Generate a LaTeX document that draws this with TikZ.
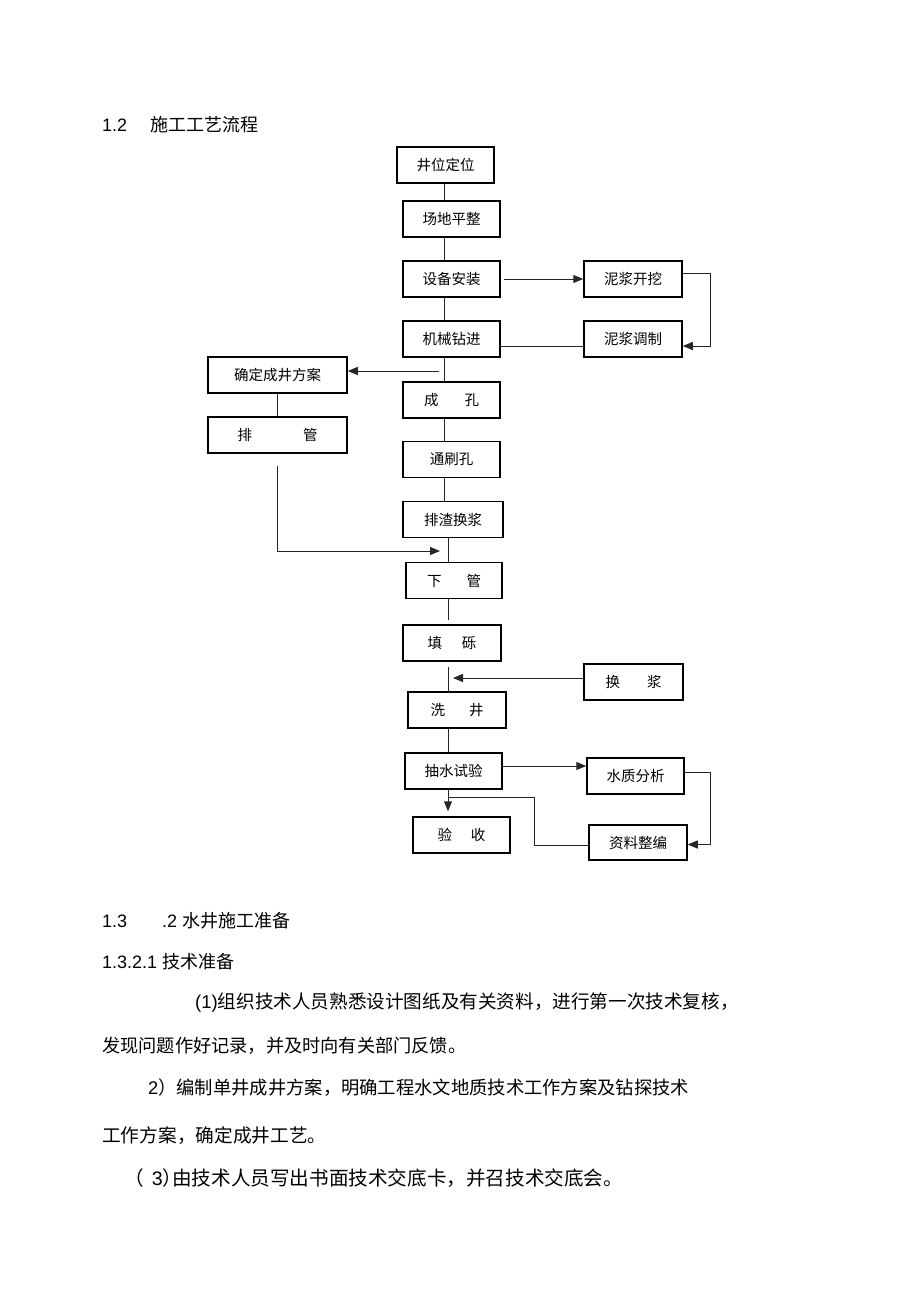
\documentclass[tikz,border=0pt]{standalone}
\usepackage{fontspec}
\setmainfont{Liberation Sans}
\newfontfamily\cjk{Noto Sans CJK SC}
\usetikzlibrary{positioning,arrows.meta}

\begin{document}
\begin{tikzpicture}[x=1pt, y=-1pt,
  box/.style={draw, rectangle, line width=1.5pt, minimum width=97pt, minimum height=36pt,
    inner sep=0pt, font=\cjk\fontsize{14.5}{14.5}\selectfont},
  widebox/.style={box, minimum width=139pt},
  link/.style={line width=1pt, draw=black!85},
  arr/.style={link, -{Triangle[length=10pt, width=8pt]}},
  body/.style={anchor=west, inner sep=0pt, font=\fontsize{18}{18}\selectfont}]
  \useasboundingbox (0,0) rectangle (920,1304);
  \fill[white] (0,0) rectangle (920,1304);

  \node[body] (h12) at (102, 125) {1.2\hspace{23pt}{\cjk 施工工艺流程}};

  \node[box] (wdw) at (445.5, 165) {井位定位};
  \node[box] (cdpz) at (451.5, 219) {场地平整};
  \node[box] (sbaz) at (451.5, 279) {设备安装};
  \node[box] (jxzj) at (451.5, 339) {机械钻进};
  \node[box, minimum width=98pt] (njwk) at (633, 279) {泥浆开挖};
  \node[box, minimum width=98pt] (njtz) at (633, 339) {泥浆调制};
  \node[widebox] (qdfa) at (277.5, 375) {确定成井方案};
  \node[widebox] (pg) at (277.5, 435) {排\hspace{51pt}管};
  \node[box] (ck) at (451.5, 400) {成\hspace{26pt}孔};
  \node[box] (tsk) at (451.5, 459.5) {通刷孔};
  \node[box, minimum width=100pt] (pzhj) at (453, 519.5) {排渣换浆};
  \node[box, minimum width=96pt] (xg) at (454, 580.5) {下\hspace{25pt}管};
  \node[box, minimum width=98pt] (tl) at (452, 643) {填\hspace{20pt}砾};
  \node[box, minimum width=99pt] (hj) at (633.5, 682) {换\hspace{27pt}浆};
  \node[box, minimum width=98pt] (xj) at (457, 710) {洗\hspace{24pt}井};
  \node[box] (cssy) at (453.5, 771) {抽水试验};
  \node[box] (szfx) at (635.5, 776) {水质分析};
  \node[box, minimum width=98pt, minimum height=35pt] (zlzb) at (638, 842.5) {资料整编};
  \node[box] (ys) at (461.5, 835) {验\hspace{19pt}收};

  \coordinate (spine) at (444, 0);
  \coordinate (spinelow) at (448, 0);
  \coordinate (pgin) at (440, 551);
  \coordinate (ret) at (534, 797);

  \draw[link] (wdw.south -| spine) -- (cdpz.north -| spine);
  \draw[link] (cdpz.south -| spine) -- (sbaz.north -| spine);
  \draw[link] (sbaz.south -| spine) -- (jxzj.north -| spine);
  \draw[link] (jxzj.south -| spine) -- (ck.north -| spine);
  \draw[link] (ck.south -| spine) -- (tsk.north -| spine);
  \draw[link] (tsk.south -| spine) -- (pzhj.north -| spine);
  \draw[link] (pzhj.south -| spinelow) -- (xg.north -| spinelow);
  \draw[link, shorten >=4pt] (xg.south -| spinelow) -- (tl.north -| spinelow);
  \draw[link, shorten <=5pt] (tl.south -| spinelow) -- (xj.north -| spinelow);
  \draw[link] (xj.south -| spinelow) -- (cssy.north -| spinelow);
  \draw[arr, shorten >=5pt] (cssy.south -| spinelow) -- (ys.north -| spinelow);

  \draw[arr, shorten <=3pt] (sbaz.east) -- (njwk.west);
  \draw[arr] ([yshift=6pt]njwk.east) -- ++(28,0) |- ([yshift=-7pt]njtz.east);
  \draw[link] ([yshift=-7pt]jxzj.east) -- ([yshift=-7pt]njtz.west);

  \draw[arr, shorten <=5pt] ([yshift=4pt]qdfa.east -| spine) -- ([yshift=4pt]qdfa.east);
  \draw[link] (qdfa.south) -- (pg.north);
  \draw[arr, shorten <=12pt] (pg.south) |- (pgin);

  \draw[arr, shorten >=5pt] ([yshift=4pt]hj.west) -- ([yshift=4pt]hj.west -| spinelow);

  \draw[arr] ([yshift=5pt]cssy.east) -- ([yshift=5pt]cssy.east -| szfx.west);
  \draw[arr] ([yshift=4pt]szfx.east) -- ++(26,0) |- ([yshift=-2pt]zlzb.east);
  \draw[link] ([yshift=-3pt]zlzb.west) -| (ret) -- (ret -| spinelow);

  \node[body] (h13) at (102, 921) {1.3\hspace{35pt}.2 {\cjk 水井施工准备}};
  \node[body] (h1321) at (102, 962) {1.3.2.1 {\cjk 技术准备}};
  \node[body, font=\fontsize{18.6}{18.6}\selectfont] (p1) at (195, 1003)
    {(1){\cjk 组织技术人员熟悉设计图纸及有关资料，进行第一次技术复核，}};
  \node[body, font=\fontsize{18.2}{18.2}\selectfont] (p1b) at (102, 1046)
    {{\cjk 发现问题作好记录，并及时向有关部门反馈。}};
  \node[body, font=\fontsize{18.3}{18.3}\selectfont] (p2) at (148, 1088)
    {2{\cjk ）编制单井成井方案，明确工程水文地质技术工作方案及钻探技术}};
  \node[body, font=\fontsize{18.7}{18.7}\selectfont] (p2b) at (102, 1136)
    {{\cjk 工作方案，确定成井工艺。}};
  \node[body, font=\fontsize{19.6}{19.6}\selectfont] (p3) at (124, 1178)
    {{\cjk （}\hspace{8pt}3{\cjk ）\hspace{-10pt}由技术人员写出书面技术交底卡，并召技术交底会。}};
\end{tikzpicture}
\end{document}
